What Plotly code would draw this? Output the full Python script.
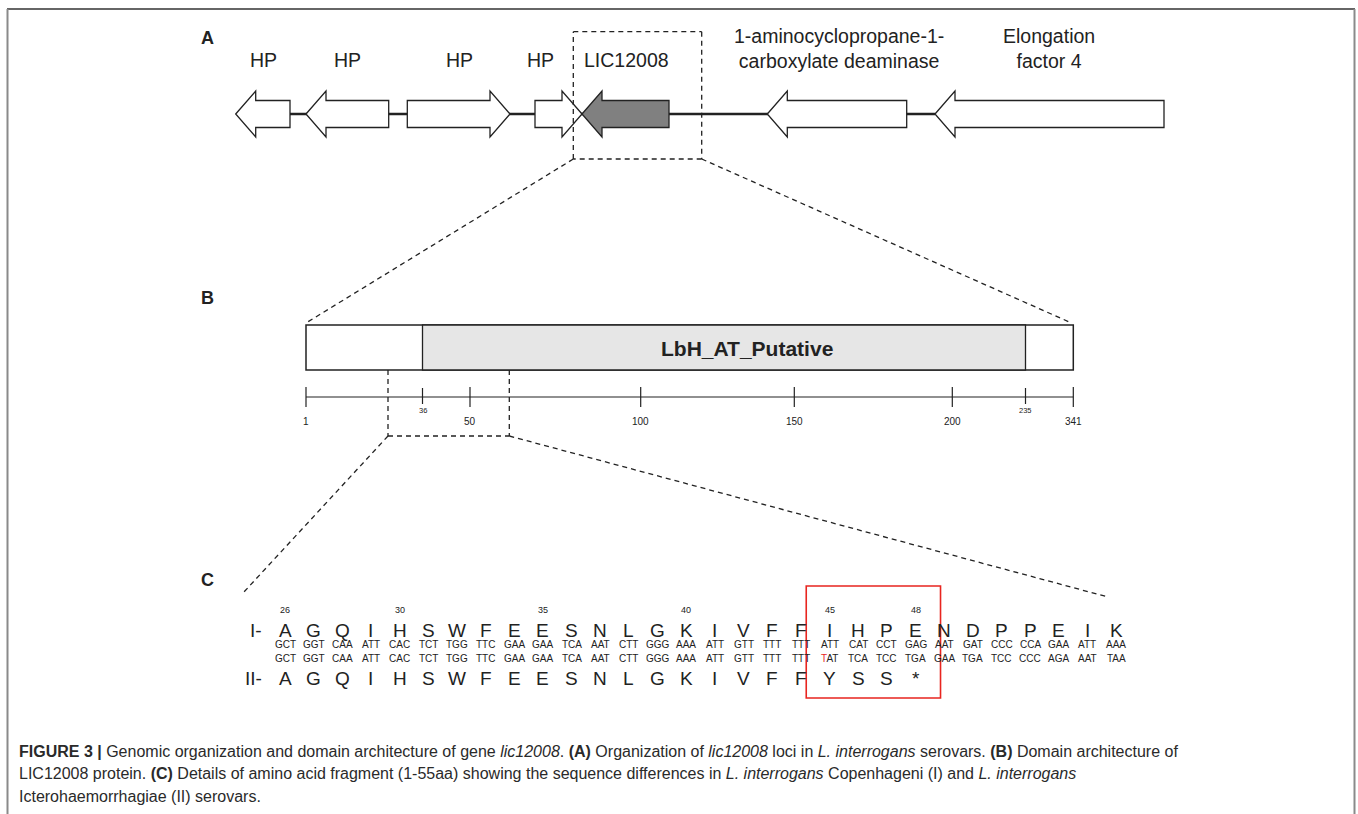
import numpy as np
import plotly.graph_objects as go

# ---------------- DATA ----------------
# Panel A: gene neighbourhood (schematic coordinates)
gene_labels = ["HP", "HP", "HP", "HP", "LIC12008",
               "1-aminocyclopropane-1-<br>carboxylate deaminase",
               "Elongation<br>factor 4"]
gene_start = [235.7, 306.0, 407.3, 535.0, 582.0, 767.3, 935.0]
gene_end = [290.0, 388.7, 510.0, 582.0, 669.0, 906.7, 1164.0]
gene_strand = [-1, -1, 1, 1, -1, -1, -1]
gene_fill = ["white", "white", "white", "white", "#808080", "white", "white"]
gene_label_x = [263, 347, 459, 540, 626, 839, 1049]

# Panel B: domain architecture
protein_len = 341
domain_name = "LbH_AT_Putative"
domain_start, domain_end = 36, 235
b_tick_vals = [1, 36, 50, 100, 150, 200, 235, 341]
b_tick_small = [False, True, False, False, False, False, True, False]

# Panel C: sequence fragment
seq_first_pos = 26
aa_I = list("AGQIHSWFEESNLGKIVFFIHPENDPPEIK")
codon_I = ["GCT", "GGT", "CAA", "ATT", "CAC", "TCT", "TGG", "TTC", "GAA", "GAA",
           "TCA", "AAT", "CTT", "GGG", "AAA", "ATT", "GTT", "TTT", "TTT", "ATT",
           "CAT", "CCT", "GAG", "AAT", "GAT", "CCC", "CCA", "GAA", "ATT", "AAA"]
codon_II = ["GCT", "GGT", "CAA", "ATT", "CAC", "TCT", "TGG", "TTC", "GAA", "GAA",
            "TCA", "AAT", "CTT", "GGG", "AAA", "ATT", "GTT", "TTT", "TTT",
            "<span style='color:#e8251f'>T</span>AT",
            "TCA", "TCC", "TGA", "GAA", "TGA", "TCC", "CCC", "AGA", "AAT", "TAA"]
aa_II = list("AGQIHSWFEESNLGKIVFFYSS*")
numbered_pos = [26, 30, 35, 40, 45, 48]
boxed_pos = (45, 48)

caption_lines = [
    "<b>FIGURE 3 |</b> Genomic organization and domain architecture of gene <i>lic12008</i>. "
    "<b>(A)</b> Organization of <i>lic12008</i> loci in <i>L. interrogans</i> serovars. "
    "<b>(B)</b> Domain architecture of",
    "LIC12008 protein. <b>(C)</b> Details of amino acid fragment (1-55aa) showing the sequence "
    "differences in <i>L. interrogans</i> Copenhageni (I) and <i>L. interrogans</i>",
    "Icterohaemorrhagiae (II) serovars.",
]

# ---------------- LAYOUT HELPERS ----------------
FONT = "Liberation Sans, Arial, sans-serif"
CAP_FONT = "Liberation Sans Narrow, Arial Narrow, Liberation Sans, sans-serif"
INK = "#222222"

shapes = []
annotations = []


def text(x, y, s, size, bold=False, anchor="center", color=INK, font=FONT):
    annotations.append(dict(
        x=x, y=y, xref="x", yref="y", text=(f"<b>{s}</b>" if bold else s),
        showarrow=False, xanchor=anchor, yanchor="middle",
        font=dict(family=font, size=size, color=color), align="center"))


def line(x0, y0, x1, y1, width=1.3, color=INK, dash=None):
    shapes.append(dict(type="line", xref="x", yref="y", x0=x0, y0=y0, x1=x1, y1=y1,
                       line=dict(color=color, width=width, dash=dash)))


DASH = "5px,4px"

# frame
line(7, 9, 1355, 9, width=1.6, color="#333333")
line(7.5, 9, 7.5, 814, width=2, color="#8a8a8a")
line(1354.5, 9, 1354.5, 814, width=2, color="#8a8a8a")

# ---------------- PANEL A ----------------
text(207, 38, "A", 18, bold=True)
cy = 114
body_h, head_h, head_l = 13.5, 23, 20
line(min(gene_end), cy, gene_start[-1], cy, width=2.6)
for lab, s, e, st, fc, lx in zip(gene_labels, gene_start, gene_end, gene_strand,
                                 gene_fill, gene_label_x):
    if st < 0:
        pts = [(s, cy), (s + head_l, cy - head_h), (s + head_l, cy - body_h),
               (e, cy - body_h), (e, cy + body_h), (s + head_l, cy + body_h),
               (s + head_l, cy + head_h)]
    else:
        pts = [(e, cy), (e - head_l, cy - head_h), (e - head_l, cy - body_h),
               (s, cy - body_h), (s, cy + body_h), (e - head_l, cy + body_h),
               (e - head_l, cy + head_h)]
    path = "M " + " L ".join(f"{px},{py}" for px, py in pts) + " Z"
    shapes.append(dict(type="path", xref="x", yref="y", path=path, fillcolor=fc,
                       line=dict(color=INK, width=1.3)))
    text(lx, 48.5 if "<br>" in lab else 60, lab, 19.5)

# zoom box around LIC12008
bx0, bx1, by0, by1 = 573.3, 701.7, 31.7, 159
for (a, b, c, d) in [(bx0, by0, bx1, by0), (bx1, by0, bx1, by1), (bx1, by1, bx0, by1),
                     (bx0, by1, bx0, by0)]:
    line(a, b, c, d, width=1.3, dash=DASH)

# ---------------- PANEL B ----------------
text(207, 298, "B", 18, bold=True)
b_tick_px = [306, 422.5, 470, 640.7, 794.3, 952.3, 1025.5, 1073.3]


def bscale(v):
    return float(np.interp(v, b_tick_vals, b_tick_px))


px0, px1 = bscale(1), bscale(protein_len)
py0, py1 = 325, 370
line(bx0, by1, px0, py0 - 2, width=1.3, dash=DASH)
line(bx1, by1, px1 - 4, py0 - 3, width=1.3, dash=DASH)
shapes.append(dict(type="rect", xref="x", yref="y", x0=px0, x1=px1, y0=py0, y1=py1,
                   fillcolor="white", line=dict(color=INK, width=1.5)))
shapes.append(dict(type="rect", xref="x", yref="y", x0=bscale(domain_start),
                   x1=bscale(domain_end), y0=py0, y1=py1, fillcolor="#e6e6e6",
                   line=dict(color=INK, width=1.3)))
text(bscale(0.5 * (domain_start + domain_end)) - 3, 348, domain_name, 21, bold=True)

sy = 397
line(px0, sy, px1, sy, width=1.2)
for v, small in zip(b_tick_vals, b_tick_small):
    x = bscale(v)
    if small:
        line(x, 388, x, 404, width=1.2)
        text(x, 410, str(v), 7.5)
    else:
        line(x, 387, x, 407, width=1.2)
        text(x, 421, str(v), 10)

# zoom to fragment
zx0, zx1, zy = 388, 509.3, 436
line(zx0, py1, zx0, zy, dash=DASH)
line(zx1, py1, zx1, zy, dash=DASH)
line(zx0, zy, zx1, zy, dash=DASH)
line(zx0, zy, 243, 593, dash=DASH)
line(zx1, zy, 1108, 597, dash=DASH)

# ---------------- PANEL C ----------------
text(207, 580, "C", 18, bold=True)
x_first, x_step = 285.0, 28.66


def cx(pos):
    return x_first + (pos - seq_first_pos) * x_step


y_num, y_I, y_c1, y_c2, y_II = 610, 630, 644, 658, 678
for p in numbered_pos:
    text(cx(p), y_num, str(p), 9)
text(264, y_I, "I-", 19, anchor="right")
text(264, y_II, "II-", 19, anchor="right")
for i, a in enumerate(aa_I):
    text(cx(seq_first_pos + i), y_I, a, 19)
for i, c in enumerate(codon_I):
    text(cx(seq_first_pos + i), y_c1, c, 10)
for i, c in enumerate(codon_II):
    text(cx(seq_first_pos + i), y_c2, c, 10)
for i, a in enumerate(aa_II):
    text(cx(seq_first_pos + i), y_II, a, 19)

rx0 = cx(boxed_pos[0]) - 23.3
rx1 = cx(boxed_pos[1]) + 25
shapes.append(dict(type="rect", xref="x", yref="y", x0=rx0, x1=rx1, y0=586, y1=698,
                   line=dict(color="#e8251f", width=1.6)))

# ---------------- CAPTION ----------------
for k, s in enumerate(caption_lines):
    text(17, 751 + 22.5 * k, s, 16, anchor="left", color="#2a2a2a", font=CAP_FONT)

fig = go.Figure()
fig.add_trace(go.Scatter(x=[0, 1358], y=[0, 814], mode="markers",
                         marker=dict(opacity=0), hoverinfo="skip", showlegend=False))
fig.update_layout(
    width=1358, height=814, margin=dict(l=0, r=0, t=0, b=0),
    paper_bgcolor="white", plot_bgcolor="white",
    xaxis=dict(range=[0, 1358], visible=False, fixedrange=True),
    yaxis=dict(range=[814, 0], visible=False, fixedrange=True),
    shapes=shapes, annotations=annotations, showlegend=False,
)
fig.write_html("out.html", config={"displayModeBar": False, "staticPlot": True},
               post_script="document.body.style.margin='0';document.body.style.overflow='hidden';")
